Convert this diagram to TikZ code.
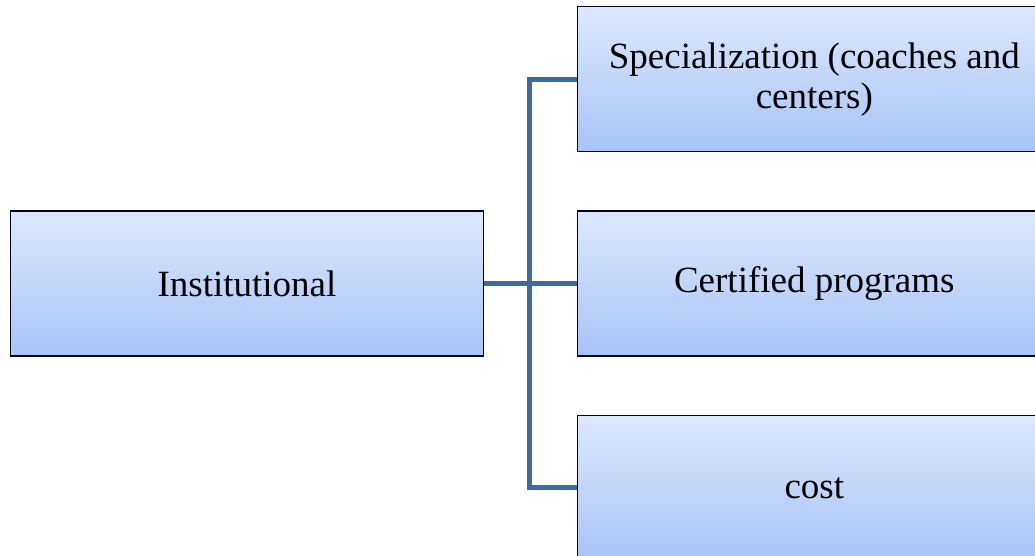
\documentclass[tikz,border=0pt]{standalone}
\usepackage{fontspec}
\setmainfont{Liberation Serif}
\usetikzlibrary{positioning,calc}
\definecolor{boxtop}{HTML}{DDE8FC}
\definecolor{boxbottom}{HTML}{A7C4F8}
\definecolor{linkblue}{HTML}{41699C}

\begin{document}
\begin{tikzpicture}[x=1pt, y=-1pt, node distance=58pt]
        \tikzstyle{block}=[rectangle,draw=black!85!blue,line width=1.3pt,top color=boxtop,bottom color=boxbottom,inner sep=0pt,minimum width=473pt, minimum height=145pt, align=center, font=\fontsize{37}{40}\selectfont]
        \tikzstyle{link}=[draw=linkblue,line width=5pt,line join=miter]

        \clip (0,0) rectangle (1035,556);

        \node[block] (inst) at (247,283.5) {Institutional};
        \node[block, right=93pt of inst] (cert) {Certified programs};
        \node[block, above=of cert] (spec) {Specialization (coaches and\\centers)};
        \node[block, below=of cert] (cost) {cost};

        \coordinate (split) at ($(inst.east)+(45pt,0)$);

        \draw[link] (inst) -- (cert);
        \draw[link] (spec.west) -| (split) |- (cost.west);
    \end{tikzpicture}
\end{document}
